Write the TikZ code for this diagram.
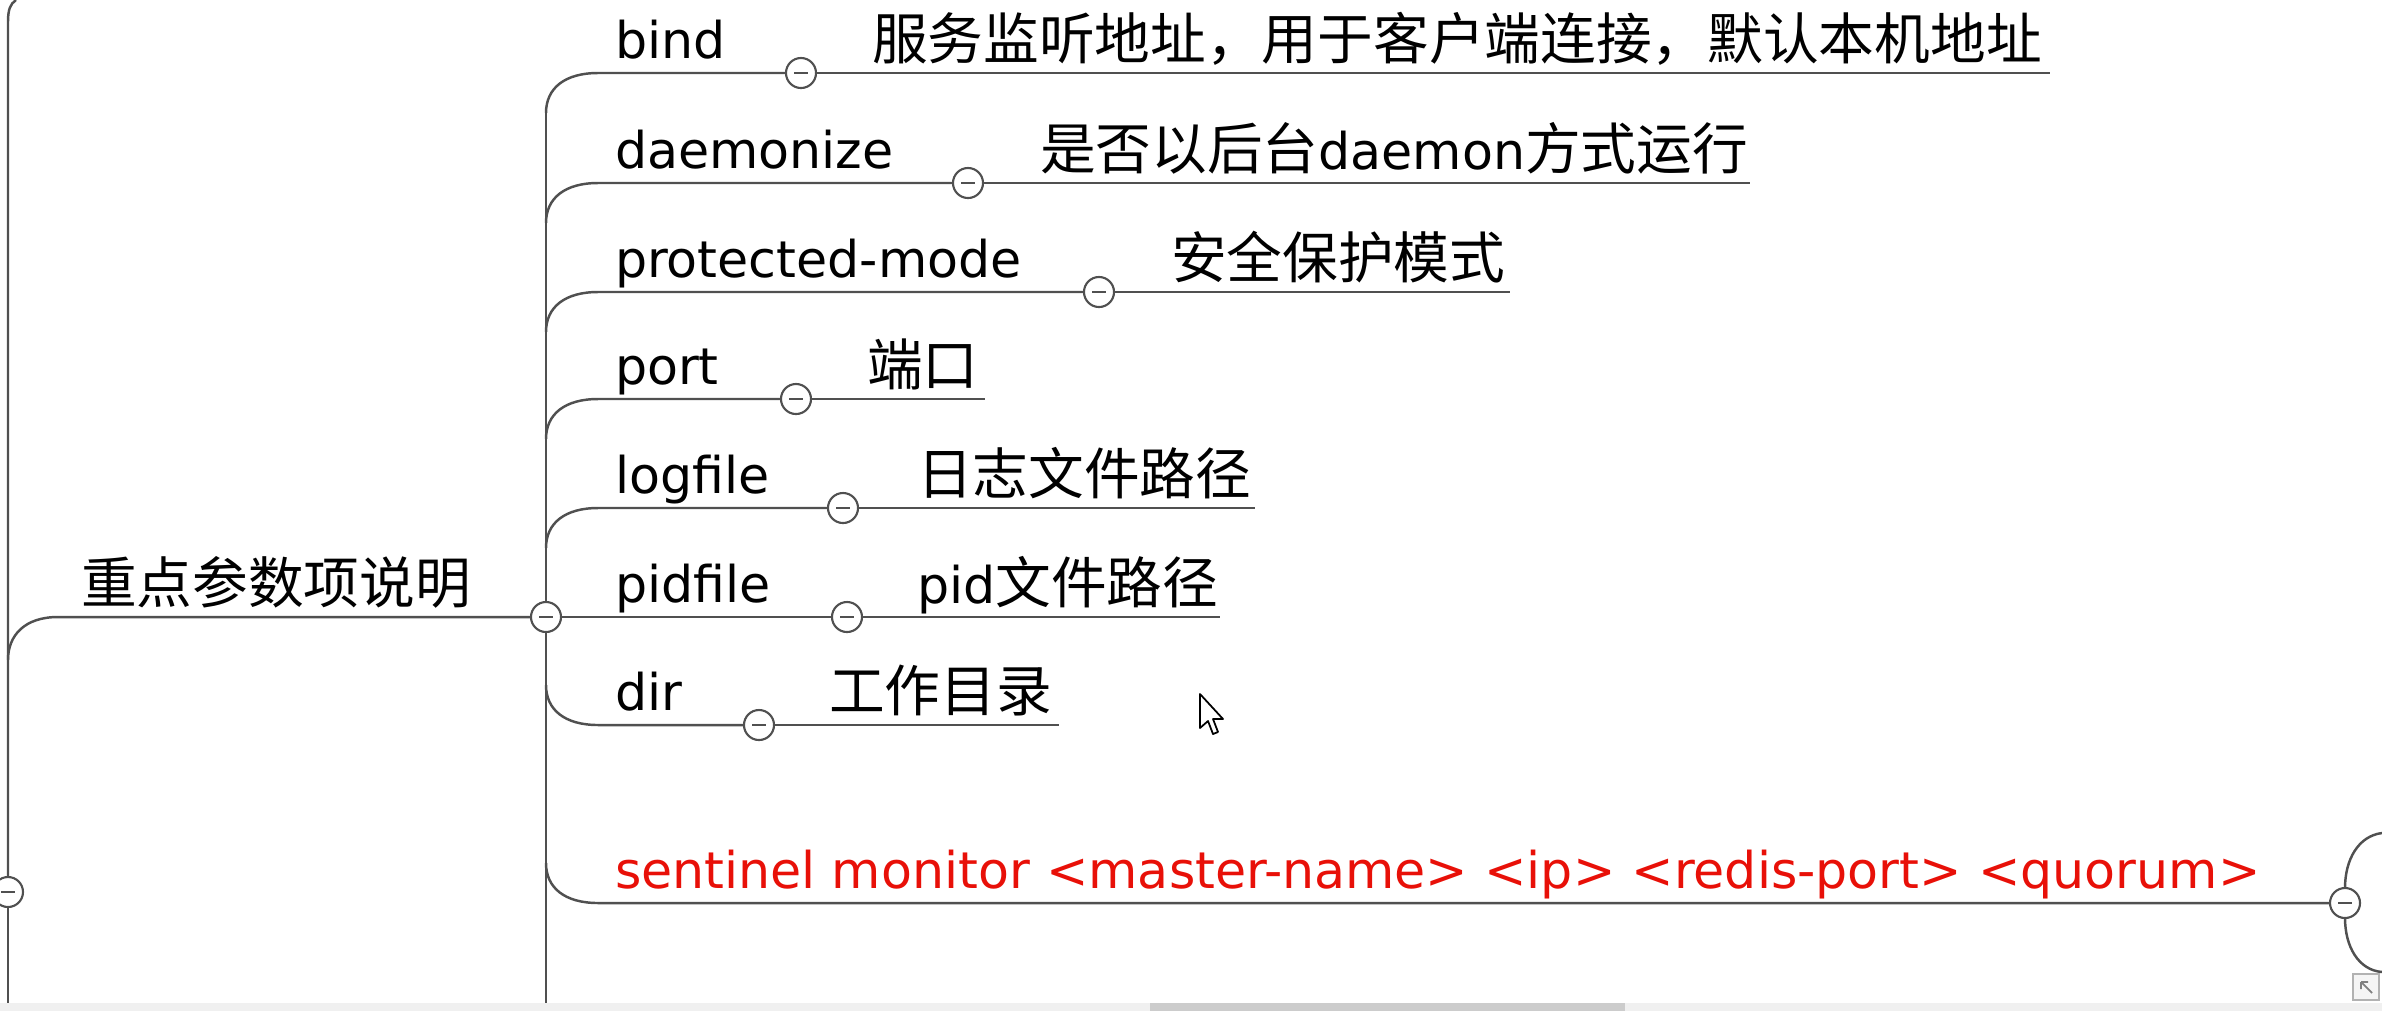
\documentclass[tikz,border=0pt]{standalone}
\usepackage{fontspec}
\setmainfont{DejaVu Sans}
\newfontfamily\cjk{Noto Sans CJK SC}[Scale=1.1]
\usetikzlibrary{positioning}
\definecolor{linegray}{RGB}{80,80,80}
\definecolor{keyred}{RGB}{232,16,8}

\begin{document}
\begin{tikzpicture}[x=0.01cm, y=-0.01cm,
    every node/.style={font=\fontsize{14.4}{17}\selectfont, inner sep=0pt, outer sep=0pt},
    branch/.style={draw=linegray, line width=0.7pt},
    btn/.style={circle, draw=linegray, fill=white, line width=0.6pt, minimum size=0.3cm,
        path picture={\draw[line width=0.8pt] ([xshift=-0.07cm]path picture bounding box.center)
            -- ([xshift=0.07cm]path picture bounding box.center);}},
    key/.style={anchor=base west},
    desc/.style={anchor=base west}]
    \useasboundingbox (0,0) rectangle (2382,1011);

    % left stem
    \coordinate (stemtop) at (16,0);
    \coordinate (stembot) at (8,1003);
    \node[btn] (stembtn) at (8,892) {};
    \draw[branch] (stemtop) .. controls (10,4) and (8,10) .. (8,22) -- (stembtn.north);
    \draw[branch] (stembtn.south) -- (stembot);

    % root topic
    \node[btn] (hub) at (546,617) {};
    \node[anchor=base west] (root) at (81,603) {\cjk 重点参数项说明};
    \coordinate (rootfork) at (8,660);
    \draw[branch] (rootfork) .. controls (8,635) and (25,617) .. (58,617) -- (hub.west);

    % trunk
    \coordinate (trunktop) at (546,113);
    \coordinate (trunkbot) at (546,1003);
    \draw[branch] (trunktop) -- (hub.north);
    \draw[branch] (hub.south) -- (trunkbot);

    % branches above the hub
    \foreach \nm/\y/\bx/\ex/\tx/\key/\desc in {
        bind/73/801/2050/872/bind/{\cjk 服务监听地址，用于客户端连接，默认本机地址},
        daemon/183/968/1750/1040/daemonize/{{\cjk 是否以后台}daemon{\cjk 方式运行}},
        prot/292/1099/1510/1171/protected-mode/{\cjk 安全保护模式},
        port/399/796/985/867/port/{\cjk 端口},
        log/508/843/1255/917/logfile/{\cjk 日志文件路径}} {
        \coordinate (s-\nm) at (546,\y+40);
        \coordinate (e-\nm) at (\ex,\y);
        \node[btn] (b-\nm) at (\bx,\y) {};
        \node[key] (k-\nm) at (615,\y-15) {\key};
        \node[desc] (d-\nm) at (\tx,\y-14) {\desc};
        \draw[branch] (s-\nm) .. controls (546,\y+15) and (565,\y) .. (598,\y) -- (b-\nm.west);
        \draw[branch] (b-\nm.east) -- (e-\nm);
    }

    % pidfile runs straight out of the hub
    \node[btn] (b-pid) at (847,617) {};
    \node[key] (k-pid) at (615,602) {pidfile};
    \node[desc] (d-pid) at (917,603) {pid{\cjk 文件路径}};
    \coordinate (e-pid) at (1220,617);
    \draw[branch] (hub.east) -- (b-pid.west);
    \draw[branch] (b-pid.east) -- (e-pid);

    % dir
    \coordinate (s-dir) at (546,685);
    \coordinate (e-dir) at (1059,725);
    \node[btn] (b-dir) at (759,725) {};
    \node[key] (k-dir) at (615,710) {dir};
    \node[desc] (d-dir) at (829,711) {\cjk 工作目录};
    \draw[branch] (s-dir) .. controls (546,710) and (565,725) .. (598,725) -- (b-dir.west);
    \draw[branch] (b-dir.east) -- (e-dir);

    % sentinel monitor
    \coordinate (s-sent) at (546,863);
    \coordinate (sentup) at (2382,833);
    \coordinate (sentdown) at (2382,972);
    \node[btn] (b-sent) at (2345,903) {};
    \node[key, text=keyred] (k-sent) at (615,888)
        {sentinel monitor <master-name> <ip> <redis-port> <quorum>};
    \draw[branch] (s-sent) .. controls (546,888) and (565,903) .. (598,903) -- (b-sent.west);
    \draw[branch] (b-sent.north) .. controls (2345,860) and (2358,836) .. (sentup);
    \draw[branch] (b-sent.south) .. controls (2345,946) and (2358,970) .. (sentdown);

    % window bits
    \fill[gray!12] (0,1003) rectangle (2382,1011);
    \fill[gray!40] (1150,1003) rectangle (1625,1011);
    \draw[gray!60, fill=gray!8, line width=0.6pt] (2353,974) rectangle (2379,1000);
    \draw[gray, line width=0.5pt] (2372,993) -- (2361,982) (2361,982) -- (2361,989) (2361,982) -- (2368,982);
    \draw[black, fill=white, line width=0.5pt, line join=round]
        (1200,694) -- (1200,728) -- (1208,721) -- (1213,734) -- (1218,732) -- (1213,719) -- (1223,719) -- cycle;
\end{tikzpicture}
\end{document}
